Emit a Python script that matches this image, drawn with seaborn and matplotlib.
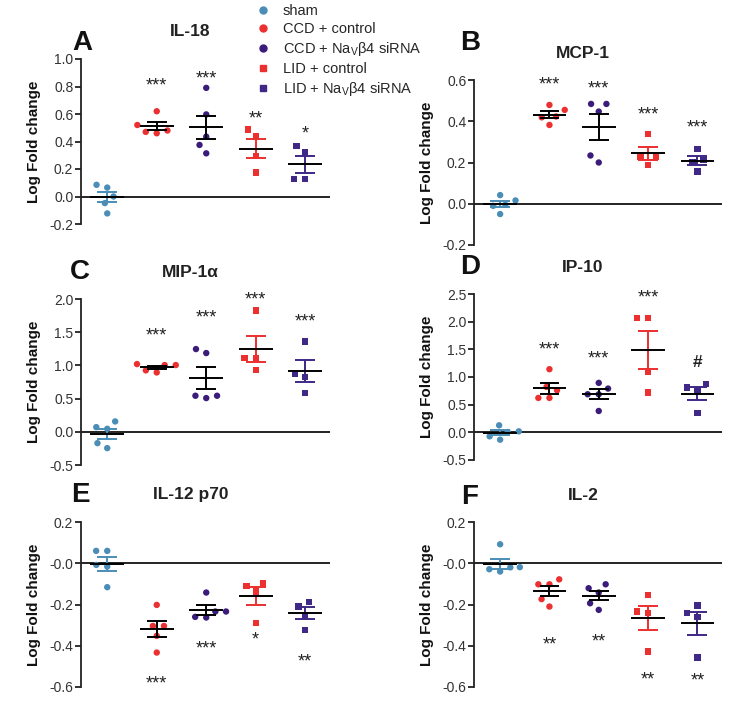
import numpy as np
import pandas as pd
import seaborn as sns
import matplotlib.pyplot as plt
from matplotlib.lines import Line2D

sns.set_style("white")
plt.rcParams['font.family'] = ['Liberation Sans', 'DejaVu Sans']
plt.rcParams['mathtext.default'] = 'regular'

# groups, in plot order
groups = ["sham", "CCD + control", "CCD + siRNA", "LID + control", "LID + siRNA"]
legend_labels = ["sham", "CCD + control", "CCD + Na$_\\mathregular{V}$\u03b24 siRNA",
                 "LID + control", "LID + Na$_\\mathregular{V}$\u03b24 siRNA"]
group_colors = ["#4a8db7", "#ec2f2f", "#3b1c7a", "#ec2f2f", "#3f2886"]
err_colors = ["#4a8db7", "black", "black", "#ec2f2f", "#3f2886"]
group_markers = ["o", "o", "o", "s", "s"]

# values, one list per group
il18 = [[0.065, 0.085, -0.048, -0.123, 0.0],
        [0.62, 0.48, 0.46, 0.47, 0.52],
        [0.79, 0.597, 0.435, 0.375, 0.314],
        [0.435, 0.488, 0.174, 0.295],
        [0.367, 0.319, 0.126, 0.126]]
mcp1 = [[0.016, 0.042, -0.05, -0.005, -0.01],
        [0.479, 0.455, 0.423, 0.419, 0.382],
        [0.484, 0.484, 0.447, 0.234, 0.2],
        [0.337, 0.226, 0.226, 0.189],
        [0.266, 0.213, 0.202, 0.156]]
mip1a = [[0.07, 0.045, 0.156, -0.246, -0.171],
         [1.005, 1.02, 1.005, 0.894, 0.925],
         [1.246, 1.186, 0.543, 0.508, 0.543],
         [1.824, 1.111, 1.111, 0.935],
         [1.362, 0.874, 0.824, 0.583]]
ip10 = [[0.127, 0.006, 0.018, -0.072, -0.133],
        [1.141, 0.761, 0.821, 0.622, 0.622],
        [0.894, 0.791, 0.688, 0.688, 0.386],
        [2.065, 2.065, 1.099, 0.719],
        [0.809, 0.87, 0.749, 0.35]]
il12 = [[0.06, 0.06, -0.008, -0.016, -0.116],
        [-0.202, -0.304, -0.304, -0.352, -0.433],
        [-0.142, -0.234, -0.26, -0.263, -0.234],
        [-0.11, -0.099, -0.137, -0.29],
        [-0.209, -0.188, -0.25, -0.323]]
il2 = [[0.092, -0.019, -0.04, -0.029, -0.02],
       [-0.102, -0.102, -0.078, -0.174, -0.21],
       [-0.121, -0.142, -0.102, -0.194, -0.226],
       [-0.153, -0.234, -0.242, -0.428],
       [-0.205, -0.242, -0.262, -0.457]]

# significance marks for groups 1..4 and their heights
marks_il18 = ["***", "***", "**", "*"]
marks_mcp1 = ["***", "***", "***", "***"]
marks_mip1a = ["***", "***", "***", "***"]
marks_ip10 = ["***", "***", "***", "#"]
marks_il12 = ["***", "***", "*", "**"]
marks_il2 = ["**", "**", "**", "**"]
marky_il18 = [0.85, 0.90, 0.61, 0.50]
marky_mcp1 = [0.603, 0.584, 0.458, 0.397]
marky_mip1a = [1.54, 1.80, 2.08, 1.75]
marky_ip10 = [1.59, 1.425, 2.54, 1.29]
marky_il12 = [-0.557, -0.388, -0.342, -0.452]
marky_il2 = [-0.367, -0.351, -0.536, -0.541]

ticks_il18 = [-0.2, 0.0, 0.2, 0.4, 0.6, 0.8, 1.0]
ticks_mcp1 = [-0.2, 0.0, 0.2, 0.4, 0.6]
ticks_mip1a = [-0.5, 0.0, 0.5, 1.0, 1.5, 2.0]
ticks_ip10 = [-0.5, 0.0, 0.5, 1.0, 1.5, 2.0, 2.5]
ticks_il12 = [-0.6, -0.4, -0.2, 0.0, 0.2]
labels_neg = ["-0.6", "-0.4", "-0.2", "-0.0", "0.2"]

panels = [
    ("A", "IL-18", il18, marks_il18, marky_il18, ticks_il18, None, (81, 59, 249, 224), (82, 43)),
    ("B", "MCP-1", mcp1, marks_mcp1, marky_mcp1, ticks_mcp1, None, (474, 80, 248, 245), (470, 43)),
    ("C", "MIP-1\u03b1", mip1a, marks_mip1a, marky_mip1a, ticks_mip1a, None, (81, 299, 249, 465), (80, 272)),
    ("D", "IP-10", ip10, marks_ip10, marky_ip10, ticks_ip10, None, (474, 294, 248, 460), (470, 267)),
    ("E", "IL-12 p70", il12, marks_il12, marky_il12, ticks_il12, labels_neg, (81, 522, 249, 687), (80, 495)),
    ("F", "IL-2", il2, marks_il2, marky_il2, ticks_il12, labels_neg, (474, 522, 248, 687), (470, 497)),
]

W, H = 750, 723
fig = plt.figure(figsize=(7.5, 7.23), dpi=100)
palette = dict(zip(groups, group_colors))
star_fs = 13

for letter, title, vals, marks, marky, ticks, ticklabels, box, lpos in panels:
    x0, top, w, bottom = box
    ax = fig.add_axes([x0 / W, 1 - bottom / H, w / W, (bottom - top) / H])
    df = pd.DataFrame({
        "group": [g for g, v in zip(groups, vals) for _ in v],
        "value": [x for v in vals for x in v],
    })
    for mk in ["o", "s"]:
        sub_groups = [g for g, m in zip(groups, group_markers) if m == mk]
        sub = df[df["group"].isin(sub_groups)]
        sns.swarmplot(data=sub, x="group", y="value", order=groups, hue="group",
                      hue_order=groups, palette=palette, marker=mk, size=4.6,
                      linewidth=3, edgecolor=(1, 1, 1, 0), legend=False, ax=ax,
                      zorder=3, clip_on=False)
    # mean and SEM
    stats = df.groupby("group", sort=False)["value"].agg(["mean", "std", "count"])
    for i, g in enumerate(groups):
        m = stats.loc[g, "mean"]
        s = stats.loc[g, "std"] / np.sqrt(stats.loc[g, "count"])
        ax.vlines(i, m - s, m + s, color=err_colors[i], lw=1.4, zorder=4)
        ax.hlines([m - s, m + s], i - 0.2, i + 0.2, color=err_colors[i], lw=1.4, zorder=4)
        ax.hlines(m, i - 0.34, i + 0.34, color="black", lw=1.4, zorder=5)
    for i, (txt, yy) in enumerate(zip(marks, marky)):
        if txt == "#":
            ax.annotate(txt, (i + 1, yy), xytext=(0, -0.36 * 12.5), textcoords="offset points",
                        ha="center", va="baseline", fontsize=12.5, fontweight="bold",
                        color="#222222", annotation_clip=False)
        else:
            ax.annotate(txt, (i + 1, yy), xytext=(0, -0.58 * star_fs), textcoords="offset points",
                        ha="center", va="baseline", fontsize=star_fs, color="#222222",
                        annotation_clip=False)
    ax.axhline(0, color="#222222", lw=1.4, zorder=2)
    ax.set_xlim(-0.53, 4.5)
    ax.set_ylim(ticks[0], ticks[-1])
    ax.set_yticks(ticks)
    if ticklabels is None:
        ax.set_yticklabels([f"{t:.1f}" for t in ticks])
    else:
        ax.set_yticklabels(ticklabels)
    ax.set_xticks([])
    ax.set_xlabel("")
    ax.set_ylabel("Log Fold change", fontsize=11, fontweight="bold", color="#111111")
    ax.yaxis.set_label_coords(-0.16, 0.5)
    for side in ["top", "right", "bottom"]:
        ax.spines[side].set_visible(False)
    ax.spines["left"].set_color("#222222")
    ax.spines["left"].set_linewidth(1.3)
    ax.tick_params(axis="y", which="both", left=True, direction="out", length=4,
                   width=1.3, color="#222222", labelsize=10, pad=1.5, labelcolor="#333333")
    ax.patch.set_visible(False)
    ax.text(0.44, 1 + 27 / (bottom - top), title, transform=ax.transAxes, ha="center",
            va="center", fontsize=12.5, fontweight="bold", color="#222222")
    fig.text(lpos[0] / W, 1 - lpos[1] / H, letter, ha="center", va="center",
             fontsize=20, fontweight="bold", color="#111111")

handles = [Line2D([], [], ls="none", marker=m, color=c, markersize=5)
           for m, c in zip(group_markers, group_colors)]
fig.legend(handles, legend_labels, loc="upper left", bbox_to_anchor=(256 / W, 1 - 4 / H),
           frameon=False, fontsize=10.5, handlelength=1.0, handletextpad=0.85,
           labelspacing=0.28, borderpad=0, borderaxespad=0)

fig.savefig("out.png", dpi=100)
